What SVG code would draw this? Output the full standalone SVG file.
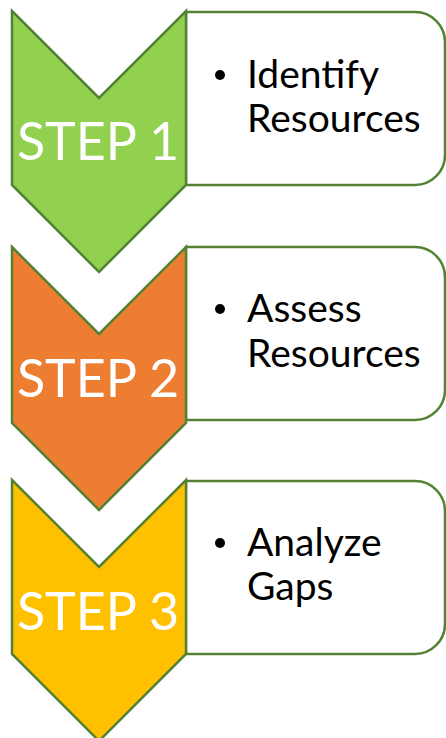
<svg xmlns="http://www.w3.org/2000/svg" width="446" height="738" viewBox="0 0 446 738">
<style>
.chev{stroke:#548235;stroke-width:2.5;stroke-linejoin:miter}
.box{fill:#fff;stroke:#548235;stroke-width:2.5}
.step{font-family:Lato,"Liberation Sans",sans-serif;font-size:52px;fill:#fff;text-anchor:middle}
.txt{font-family:Lato,"Liberation Sans",sans-serif;font-size:39px;fill:#000}
</style>
<rect width="446" height="738" fill="#fff"/>
<g id="step1">
<path class="box" d="M186 12 H415 A30 30 0 0 1 445 42 V155 A30 30 0 0 1 415 185 H186 Z"/>
<polygon class="chev" fill="#92D050" points="12,11 99,98 186,11 186,185 99,272 12,185"/>
<text class="step" x="98" y="160">STEP 1</text>
<circle cx="220" cy="75" r="5"/>
<text class="txt" x="247" y="88">Identify</text>
<text class="txt" x="247" y="132">Resources</text>
</g>
<g id="step2">
<path class="box" d="M186 247 H415 A30 30 0 0 1 445 277 V390 A30 30 0 0 1 415 420 H186 Z"/>
<polygon class="chev" fill="#ED7D31" points="12,247 99,334 186,247 186,423 99,510 12,423"/>
<text class="step" x="98" y="397">STEP 2</text>
<circle cx="220" cy="309" r="5"/>
<text class="txt" x="247" y="322">Assess</text>
<text class="txt" x="247" y="367">Resources</text>
</g>
<g id="step3">
<path class="box" d="M186 481 H415 A30 30 0 0 1 445 511 V624 A30 30 0 0 1 415 654 H186 Z"/>
<polygon class="chev" fill="#FFC000" points="12,480 99,567 186,480 186,654 99,741 12,654"/>
<text class="step" x="98" y="630">STEP 3</text>
<circle cx="220" cy="543" r="5"/>
<text class="txt" x="247" y="556">Analyze</text>
<text class="txt" x="247" y="600">Gaps</text>
</g>
<g id="connectors"/>
</svg>
